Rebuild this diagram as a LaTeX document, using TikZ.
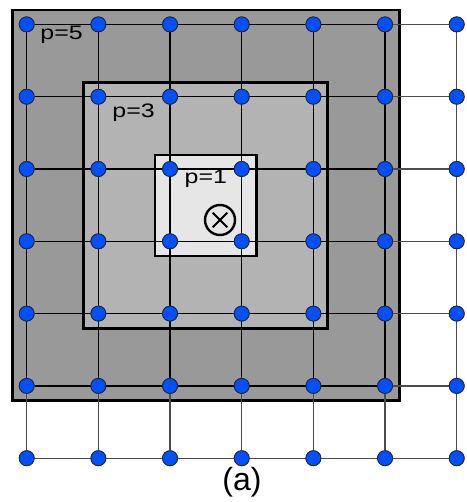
\documentclass[tikz,border=0pt]{standalone}
\usepackage{fontspec}
\setmainfont{Liberation Sans}
\usepackage{graphicx}
\usetikzlibrary{positioning}
\definecolor{GBlue}{HTML}{0050FF}
\definecolor{GDark}{HTML}{999999}
\definecolor{GMid}{HTML}{B3B3B3}
\definecolor{GLight}{HTML}{E6E6E6}

\begin{document}
\begin{tikzpicture}[
  x=1pt,y=-1pt,
  sq/.style={draw=black,line width=2.6pt},
  pt/.style={circle,draw=black!85,line width=0.8pt,fill=GBlue,
    minimum size=15pt,inner sep=0pt},
  ln/.style={line width=1.3pt,color=black},
  lo/.style={line width=1.3pt,color=black!70},
  lab/.style={font=\fontsize{19.5}{19.5}\selectfont,anchor=base west,inner sep=0pt}
]
  \useasboundingbox (0,0) rectangle (466,502);
  % nested windows
  \fill[GDark] (12.3,10) rectangle (399.5,400.5);
  \draw[sq] (12.3,10) rectangle (399.5,400.5);
  \fill[GMid] (83.5,82.3) rectangle (327.7,328.3);
  \draw[sq] (83.5,82.3) rectangle (327.7,328.3);
  \fill[GLight] (155,155) rectangle (256.5,256);
  \draw[sq] (155,155) rectangle (256.5,256);
  % grid points
  \foreach \i in {1,...,7}
    \foreach \j in {1,...,7}
      {\node[pt] (d\i\j) at ({26.7+71.67*(\i-1)},{24.4+72.3*(\j-1)}) {};}
  % grid lines
  \foreach \i in {1,...,6}
    {\draw[ln] (d\i1) -- (d\i6);
     \draw[lo] (d\i6) -- (d\i7);
     \draw[ln] (d1\i) -- (d6\i);
     \draw[lo] (d6\i) -- (d7\i);}
  \draw[lo] (d17) -- (d77);
  \draw[lo] (d71) -- (d77);
  % redraw points on top
  \foreach \i in {1,...,7}
    \foreach \j in {1,...,7}
      {\node[pt] at (d\i\j) {};}
  \node[circle,draw=black,line width=2.4pt,minimum size=30pt,inner sep=0pt,
    path picture={\draw[line width=1.8pt]
      ([shift={(-7.3pt,-7.3pt)}]src.center) -- ([shift={(7.3pt,7.3pt)}]src.center)
      ([shift={(-7.3pt,7.3pt)}]src.center) -- ([shift={(7.3pt,-7.3pt)}]src.center);}]
    (src) at (220,220) {};
  \node[lab] (p5) at (40.2,39.4) {\scalebox{1.28}[1]{p=5}};
  \node[lab] (p3) at (112.2,117.2) {\scalebox{1.28}[1]{p=3}};
  \node[lab] (p1) at (184.5,183.3) {\scalebox{1.28}[1]{p=1}};
  \node[font=\fontsize{32}{32}\selectfont,anchor=base,inner sep=0pt] (cap)
    at (242,490) {(a)};
\end{tikzpicture}
\end{document}
